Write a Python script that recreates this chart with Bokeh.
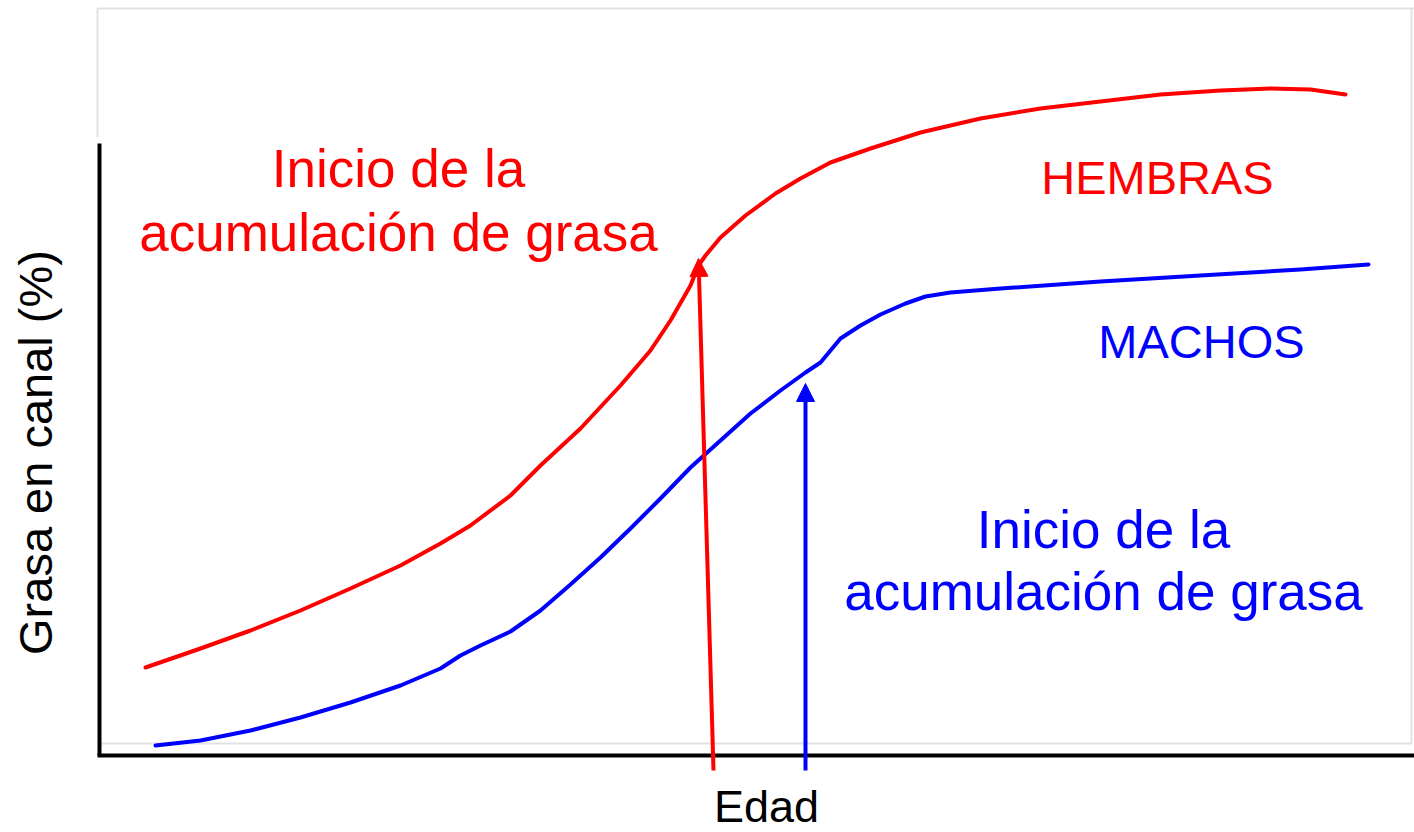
import math
from bokeh.plotting import figure
from bokeh.models import Range1d, Arrow, NormalHead
from bokeh.core.properties import value
from bokeh.embed import file_html
from bokeh.resources import INLINE

# ---- data (schematic units) ----
hembras_edad = [47, 102, 152, 202, 252, 302, 342, 372, 412, 442, 482, 522, 552, 572, 592,
                600, 607, 622, 647, 677, 702, 732, 772, 822, 882, 942, 1002, 1062, 1122,
                1172, 1212, 1247]
hembras_grasa = [88, 107, 125, 145, 167, 190, 212, 230, 260, 290, 327, 370, 405, 435, 470,
                 490, 500, 518, 540, 562, 577, 593, 607, 623, 637, 647, 654, 661, 665,
                 667, 666, 661]

machos_edad = [57, 102, 152, 202, 252, 302, 342, 362, 382, 412, 442, 472, 502, 532, 562,
               592, 622, 652, 682, 707, 722, 732, 742, 762, 782, 807, 827, 852, 902, 1002,
               1102, 1202, 1270]
machos_grasa = [10, 15, 25, 38, 53, 70, 87, 100, 110, 124, 145, 171, 198, 227, 257,
                288, 315, 342, 365, 383, 393, 405, 417, 430, 441, 452, 459, 463, 467, 474,
                480, 486, 491]

# onset of fat accumulation (arrows): start and tip
inicio_hembras = (615, -15, 600, 497)
inicio_machos = (707, -15, 707, 372)

textos_hembras = ["Inicio de la", "acumulación de grasa", "HEMBRAS"]
textos_machos = ["Inicio de la", "acumulación de grasa", "MACHOS"]
titulo_x = "Edad"
titulo_y = "Grasa en canal (%)"

RED = "#ff0000"
BLUE = "#0000ff"
FONT = "Liberation Sans"

p = figure(width=1414, height=832, output_backend="svg", toolbar_location=None,
           x_range=Range1d(-98, 1316), y_range=Range1d(-77, 755),
           x_axis_location=None, y_axis_location=None,
           min_border=0)
p.outline_line_color = None
p.xgrid.visible = False
p.ygrid.visible = False
p.background_fill_color = "white"
p.border_fill_color = "white"

# faint scan-border artefacts
p.segment(x0=[-1, -1, -1, 1313], y0=[747, 747, 12, 747], x1=[1316, -1, 1313, 1313],
          y1=[747, 618, 12, 12], line_color="#e2e2e2", line_width=2)

# axis lines
p.segment(x0=[1], y0=[0], x1=[1], y1=[612], line_color="black", line_width=4)
p.segment(x0=[-1], y0=[0], x1=[1320], y1=[0], line_color="black", line_width=4)

# axis titles
p.text(x=[668], y=[-51], text=[titulo_x], text_color="black", text_font=value(FONT),
       text_font_size="45px", text_align="center", text_baseline="alphabetic")
p.text(x=[-63], y=[303], text=[titulo_y], angle=math.pi / 2, text_color="black",
       text_font=value(FONT), text_font_size="47px", text_align="center",
       text_baseline="alphabetic")

# curves
p.line(hembras_edad, hembras_grasa, line_color=RED, line_width=4, line_cap="round",
       line_join="round")
p.line(machos_edad, machos_grasa, line_color=BLUE, line_width=4, line_cap="round",
       line_join="round")

# arrows
x0, y0, x1, y1 = inicio_hembras
p.add_layout(Arrow(x_start=x0, y_start=y0, x_end=x1, y_end=y1, line_color=RED, line_width=4,
                   end=NormalHead(size=18, fill_color=RED, line_color=RED)))
x0, y0, x1, y1 = inicio_machos
p.add_layout(Arrow(x_start=x0, y_start=y0, x_end=x1, y_end=y1, line_color=BLUE, line_width=4,
                   end=NormalHead(size=18, fill_color=BLUE, line_color=BLUE)))

# annotations
p.text(x=[300, 300], y=[587, 523], text=textos_hembras[:2], text_color=RED,
       text_font=value(FONT), text_font_size="53px", text_align="center",
       text_baseline="alphabetic")
p.text(x=[1059], y=[578], text=[textos_hembras[2]], text_color=RED,
       text_font=value(FONT), text_font_size="47px", text_align="center",
       text_baseline="alphabetic")
p.text(x=[1005, 1005], y=[226, 164], text=textos_machos[:2], text_color=BLUE,
       text_font=value(FONT), text_font_size="53px", text_align="center",
       text_baseline="alphabetic")
p.text(x=[1103], y=[414], text=[textos_machos[2]], text_color=BLUE,
       text_font=value(FONT), text_font_size="47px", text_align="center",
       text_baseline="alphabetic")

open("out.html", "w").write(file_html(p, INLINE))
